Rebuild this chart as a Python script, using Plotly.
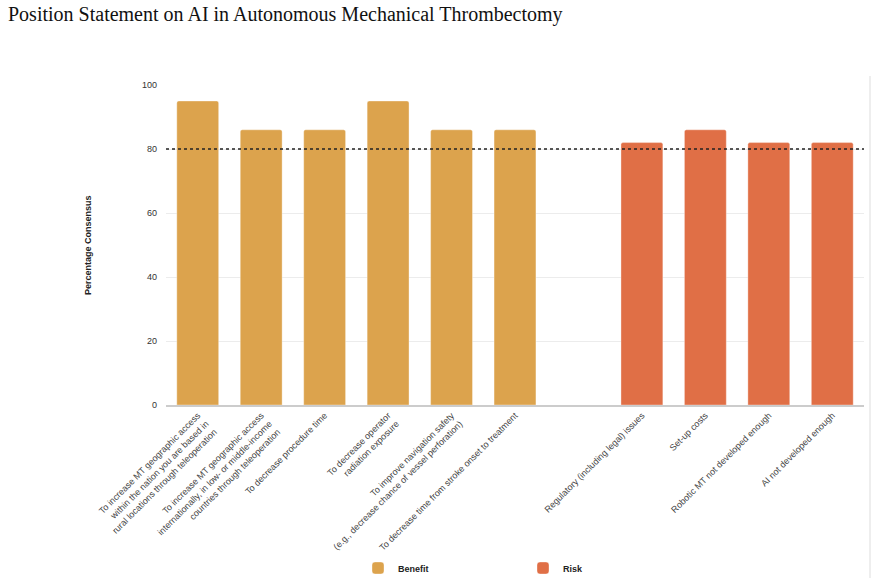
import plotly.graph_objects as go

title_text = "Position Statement on AI in Autonomous Mechanical Thrombectomy"

benefit_labels = [
    "To increase MT geographic access<br>within the nation you are based in<br>rural locations through teleoperation",
    "To increase MT geographic access<br>internationally, in low- or middle-income<br>countries through teleoperation",
    "To decrease procedure time",
    "To decrease operator<br>radiation exposure",
    "To improve navigation safety<br>(e.g., decrease chance of vessel perforation)",
    "To decrease time from stroke onset to treatment",
]
benefit_values = [95, 86, 86, 95, 86, 86]

gap_label = [" "]

risk_labels = [
    "Regulatory (including legal) issues",
    "Set-up costs",
    "Robotic MT not developed enough",
    "AI not developed enough",
]
risk_values = [82, 86, 82, 82]

threshold = 80
y_ticks = [0, 20, 40, 60, 80, 100]

BENEFIT_COLOR = "#dca34d"
RISK_COLOR = "#e06f46"

fig = go.Figure()
fig.add_trace(go.Bar(
    x=benefit_labels, y=benefit_values, name="Benefit",
    marker=dict(color=BENEFIT_COLOR, cornerradius=2,
                line=dict(color="rgba(255,255,255,0.35)", width=1)),
    width=0.66,
))
fig.add_trace(go.Bar(
    x=risk_labels, y=risk_values, name="Risk",
    marker=dict(color=RISK_COLOR, cornerradius=2,
                line=dict(color="rgba(255,255,255,0.35)", width=1)),
    width=0.66,
))

fig.add_hline(y=threshold, line=dict(color="#222", width=1.5, dash="dot"))

W, H = 877, 584
ml, mr, mt, mb = 166, 13, 85, 179
pw = W - ml - mr
ph = H - mt - mb

def px_x(x):
    return (x - ml) / pw

def px_y(y):
    return (H - mb - y) / ph

fig.add_shape(type="line", xref="paper", yref="paper",
              x0=px_x(870), x1=px_x(870), y0=px_y(578), y1=px_y(76),
              line=dict(color="#dddddd", width=1))

fig.add_annotation(text="<b>Percentage Consensus</b>", xref="paper", yref="paper",
                   x=px_x(88), y=0.5, textangle=-90, showarrow=False,
                   font=dict(family="Liberation Sans, Arial", size=9, color="#222"),
                   xanchor="center", yanchor="middle")

fig.update_layout(
    width=W, height=H,
    margin=dict(l=ml, r=mr, t=mt, b=mb, autoexpand=False),
    paper_bgcolor="white", plot_bgcolor="white",
    barmode="overlay",
    title=dict(text=title_text, x=8 / W, xanchor="left", y=1 - 14 / H, yanchor="middle",
               font=dict(family="Liberation Serif, Times New Roman", size=20, color="#111")),
    font=dict(family="Liberation Sans, Arial", size=9, color="#333"),
    xaxis=dict(
        type="category",
        categoryorder="array",
        categoryarray=benefit_labels + gap_label + risk_labels,
        tickangle=-45,
        tickfont=dict(size=9, color="#444"),
        showgrid=False,
        showline=True, linecolor="#cccccc", linewidth=1.5,
        ticks="",
    ),
    yaxis=dict(
        range=[0, 100],
        tickvals=y_ticks,
        tickfont=dict(size=9, color="#333"),
        showgrid=True, gridcolor="#ececec", gridwidth=1,
        zeroline=False,
        showline=False,
        ticks="",
        ticklabelstandoff=8,
    ),
    legend=dict(
        orientation="h",
        x=px_x(358), xanchor="left",
        y=px_y(568), yanchor="middle",
        font=dict(family="Liberation Sans, Arial", size=9, color="#222", weight="bold"),
        entrywidth=120, entrywidthmode="pixels",
        itemwidth=30,
        bgcolor="rgba(0,0,0,0)",
    ),
)

fig.write_html("out.html")
